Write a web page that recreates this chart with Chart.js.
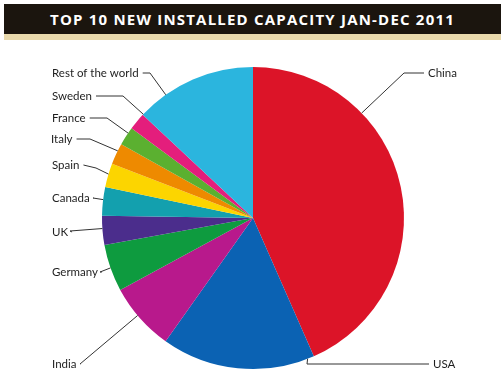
<!DOCTYPE html>
<html>
<head>
<meta charset="utf-8">
<script src="https://cdn.jsdelivr.net/npm/chart.js@4.4.0/dist/chart.umd.min.js"></script>
<style>
  body { margin: 0; background: #fff; }
  #wrap { position: relative; width: 504px; height: 373px; overflow: hidden; }
  #titlebar {
    position: absolute; left: 4px; top: 4px; width: 497px; height: 30px;
    background: #1b150e; color: #fff;
    font: bold 15px "Open Sans", sans-serif; letter-spacing: 1.2px;
    text-align: center; line-height: 30px;
  }
  #band { position: absolute; left: 4px; top: 34px; width: 497px; height: 6px; background: #e9d9ac; }
  #chart { position: absolute; left: 0; top: 0; }
</style>
</head>
<body>
<div id="wrap">
  <div id="titlebar">TOP 10 NEW INSTALLED CAPACITY JAN-DEC 2011</div>
  <div id="band"></div>
  <canvas id="chart" width="504" height="373"></canvas>
</div>
<script>
// data (MW)
const countries = ["China", "USA", "India", "Germany", "UK", "Canada", "Spain", "Italy", "France", "Sweden", "Rest of the world"];
const capacity = [18000, 6810, 3019, 2086, 1293, 1267, 1050, 950, 830, 763, 5405];
const sliceColors = ["#dc1428", "#0b62b3", "#b8198c", "#0e9b3f", "#4b2d8c", "#13a0ae", "#fcd500", "#ee8a00", "#5bb030", "#e41e7c", "#2bb5de"];

// label layout: text y, text x, elbow x / y, touch angle on rim (deg clockwise from top)
const labelLayout = [
  { side: "right", tx: 428, y: 73, ex: 404, ey: 73, deg: 46 },
  { side: "right", tx: 433, y: 364, ex: 307, ey: 364, deg: 158.8 },
  { side: "left", tx: 52, y: 364, ex: 80, ey: 364, deg: 229.8 },
  { side: "left", tx: 52, y: 272, ex: 100, ey: 272, deg: 250.7 },
  { side: "left", tx: 52, y: 232, ex: 70, ey: 231, deg: 266 },
  { side: "left", tx: 52, y: 198, ex: 93, ey: 198, deg: 277 },
  { side: "left", tx: 52, y: 165, ex: 96, ey: 168, deg: 286.9 },
  { side: "left", tx: 51, y: 139, ex: 90, ey: 139, deg: 296.4 },
  { side: "left", tx: 52, y: 118, ex: 107, ey: 118, deg: 304.2 },
  { side: "left", tx: 52, y: 96, ex: 123, ey: 96, deg: 313.4 },
  { side: "left", tx: 52, y: 73, ex: 150, ey: 73, deg: 324.7 }
];

const leaderLabels = {
  id: "leaderLabels",
  afterDatasetsDraw(chart) {
    const c = chart.ctx;
    const arcs = chart.getDatasetMeta(0).data;
    c.save();
    c.font = '11.5px Lato, sans-serif';
    c.textBaseline = "middle";
    arcs.forEach(function(arc, i) {
      const lay = labelLayout[i];
      const a = lay.deg * Math.PI / 180;
      const ax = arc.x + arc.outerRadius * Math.sin(a);
      const ay = arc.y - arc.outerRadius * Math.cos(a);
      const w = c.measureText(countries[i]).width;
      const lineEnd = lay.side === "left" ? lay.tx + w + 4 : lay.tx - 4;
      c.strokeStyle = "#333";
      c.lineWidth = 1;
      c.beginPath();
      c.moveTo(lineEnd, lay.y);
      c.lineTo(lay.ex, lay.ey);
      c.lineTo(ax, ay);
      c.stroke();
      c.fillStyle = "#1e1e1e";
      c.textAlign = "left";
      c.fillText(countries[i], lay.tx, lay.y);
    });
    c.restore();
  }
};

const ctx = document.getElementById("chart");
const chart = new Chart(ctx, {
  type: "pie",
  data: {
    labels: countries,
    datasets: [{
      data: capacity,
      backgroundColor: sliceColors,
      borderWidth: 0
    }]
  },
  options: {
    responsive: false,
    animation: false,
    layout: { padding: { left: 102, right: 100, top: 67, bottom: 4 } },
    plugins: {
      legend: { display: false },
      title: { display: false },
      tooltip: { enabled: false }
    }
  },
  plugins: [leaderLabels]
});
</script>
</body>
</html>
